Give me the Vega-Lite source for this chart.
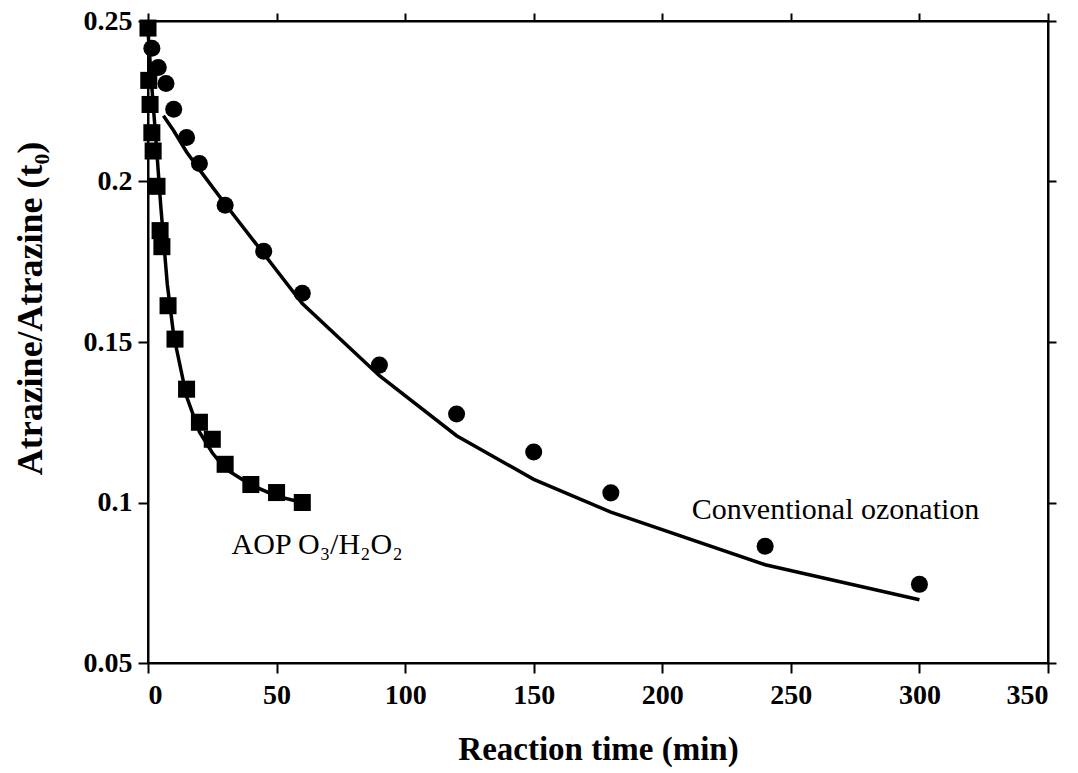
{
  "$schema": "https://vega.github.io/schema/vega-lite/v6.json",
  "autosize": "none",
  "width": 900,
  "height": 642,
  "padding": {"left": 148, "top": 21, "right": 30, "bottom": 110},
  "background": "white",
  "config": {
    "view": {"stroke": "black", "strokeWidth": 2},
    "axis": {
      "grid": false,
      "domainColor": "black",
      "domainWidth": 2,
      "tickColor": "black",
      "tickWidth": 2,
      "labelFont": "Liberation Serif",
      "labelFontWeight": "bold",
      "labelFontSize": 28,
      "labelColor": "black",
      "titleFont": "Liberation Serif",
      "titleFontWeight": "bold",
      "titleFontSize": 33,
      "titleColor": "black"
    }
  },
  "datasets": {
    "obs": [
      {"series": "conv", "t": 1.5, "v": 0.2415},
      {"series": "conv", "t": 4, "v": 0.2355},
      {"series": "conv", "t": 7, "v": 0.2305},
      {"series": "conv", "t": 10, "v": 0.2225},
      {"series": "conv", "t": 15, "v": 0.2137},
      {"series": "conv", "t": 20, "v": 0.2056},
      {"series": "conv", "t": 30, "v": 0.1926},
      {"series": "conv", "t": 45, "v": 0.1783},
      {"series": "conv", "t": 60, "v": 0.1652},
      {"series": "conv", "t": 90, "v": 0.1428},
      {"series": "conv", "t": 120, "v": 0.1276},
      {"series": "conv", "t": 150, "v": 0.1157},
      {"series": "conv", "t": 180, "v": 0.1030},
      {"series": "conv", "t": 240, "v": 0.0864},
      {"series": "conv", "t": 300, "v": 0.0745},
      {"series": "aop", "t": 0, "v": 0.2478},
      {"series": "aop", "t": 0.3, "v": 0.2315},
      {"series": "aop", "t": 0.8, "v": 0.2240},
      {"series": "aop", "t": 1.5, "v": 0.2152},
      {"series": "aop", "t": 2, "v": 0.2095},
      {"series": "aop", "t": 3.5, "v": 0.1985},
      {"series": "aop", "t": 4.7, "v": 0.1847},
      {"series": "aop", "t": 5.4, "v": 0.1797},
      {"series": "aop", "t": 7.8, "v": 0.1613},
      {"series": "aop", "t": 10.5, "v": 0.1509},
      {"series": "aop", "t": 15, "v": 0.1353},
      {"series": "aop", "t": 20, "v": 0.1250},
      {"series": "aop", "t": 25, "v": 0.1197},
      {"series": "aop", "t": 30, "v": 0.1119},
      {"series": "aop", "t": 40, "v": 0.1056},
      {"series": "aop", "t": 50, "v": 0.1031},
      {"series": "aop", "t": 60, "v": 0.1000}
    ],
    "fit": [
      {"series": "conv", "t": 6, "v": 0.2205},
      {"series": "conv", "t": 10, "v": 0.2158},
      {"series": "conv", "t": 15, "v": 0.2092},
      {"series": "conv", "t": 20, "v": 0.2037},
      {"series": "conv", "t": 30, "v": 0.1930},
      {"series": "conv", "t": 45, "v": 0.1775},
      {"series": "conv", "t": 60, "v": 0.1620},
      {"series": "conv", "t": 90, "v": 0.1395},
      {"series": "conv", "t": 120, "v": 0.1208},
      {"series": "conv", "t": 150, "v": 0.1072},
      {"series": "conv", "t": 180, "v": 0.0970},
      {"series": "conv", "t": 240, "v": 0.0806},
      {"series": "conv", "t": 300, "v": 0.0697},
      {"series": "aop", "t": 0, "v": 0.2470},
      {"series": "aop", "t": 1, "v": 0.2350},
      {"series": "aop", "t": 2, "v": 0.2240},
      {"series": "aop", "t": 3, "v": 0.2140},
      {"series": "aop", "t": 4, "v": 0.2030},
      {"series": "aop", "t": 5, "v": 0.1920},
      {"series": "aop", "t": 7.5, "v": 0.1680},
      {"series": "aop", "t": 10, "v": 0.1520},
      {"series": "aop", "t": 15, "v": 0.1330},
      {"series": "aop", "t": 20, "v": 0.1220},
      {"series": "aop", "t": 25, "v": 0.1155},
      {"series": "aop", "t": 30, "v": 0.1105},
      {"series": "aop", "t": 40, "v": 0.1055},
      {"series": "aop", "t": 50, "v": 0.1020},
      {"series": "aop", "t": 60, "v": 0.1000}
    ],
    "labels": [
      {"t": 211.5, "v": 0.0978, "label": "Conventional ozonation"},
      {"t": 32.5, "v": 0.0869, "label": "AOP O₃/H₂O₂"}
    ]
  },
  "resolve": {"axis": {"x": "independent", "y": "independent"}},
  "layer": [
    {
      "data": {"name": "fit"},
      "transform": [{"filter": "datum.series === 'conv'"}],
      "mark": {"type": "line", "color": "black", "strokeWidth": 3.5},
      "encoding": {
        "x": {"field": "t", "type": "quantitative", "scale": {"domain": [0, 350], "nice": false},
          "axis": {"orient": "bottom", "values": [0, 50, 100, 150, 200, 250, 300, 350], "tickSize": 10, "labelPadding": 8,
            "title": "Reaction time (min)", "titleX": 450, "titleY": 86, "titleBaseline": "middle", "titleAlign": "center"}},
        "y": {"field": "v", "type": "quantitative", "scale": {"domain": [0.05, 0.25], "nice": false, "zero": false},
          "axis": {"orient": "left", "values": [0.05, 0.1, 0.15, 0.2, 0.25], "labelExpr": "datum.value", "tickSize": 10, "labelPadding": 6,
            "title": "Atrazine/Atrazine (t₀)", "titleFontSize": 36, "titleX": -118, "titleY": 287, "titleAngle": -90, "titleBaseline": "middle", "titleAlign": "center"}}
      }
    },
    {
      "data": {"name": "fit"},
      "transform": [{"filter": "datum.series === 'aop'"}],
      "mark": {"type": "line", "color": "black", "strokeWidth": 3.5},
      "encoding": {
        "x": {"field": "t", "type": "quantitative", "axis": null},
        "y": {"field": "v", "type": "quantitative", "axis": null}
      }
    },
    {
      "data": {"name": "obs"},
      "transform": [{"filter": "datum.series === 'conv'"}],
      "mark": {"type": "point", "shape": "circle", "filled": true, "color": "black", "opacity": 1, "size": 290},
      "encoding": {
        "x": {"field": "t", "type": "quantitative", "axis": null},
        "y": {"field": "v", "type": "quantitative", "axis": null}
      }
    },
    {
      "data": {"name": "obs"},
      "transform": [{"filter": "datum.series === 'aop'"}],
      "mark": {"type": "point", "shape": "square", "filled": true, "color": "black", "opacity": 1, "size": 290},
      "encoding": {
        "x": {"field": "t", "type": "quantitative", "axis": null},
        "y": {"field": "v", "type": "quantitative", "axis": null}
      }
    },
    {
      "data": {"name": "labels"},
      "mark": {"type": "text", "align": "left", "baseline": "middle", "font": "Liberation Serif", "fontSize": 30, "color": "black"},
      "encoding": {
        "x": {"field": "t", "type": "quantitative", "axis": null},
        "y": {"field": "v", "type": "quantitative", "axis": null},
        "text": {"field": "label"}
      }
    },
    {
      "data": {"name": "labels"},
      "mark": {"type": "point", "opacity": 0},
      "encoding": {
        "x": {"field": "t", "type": "quantitative",
          "axis": {"orient": "top", "values": [0, 50, 100, 150, 200, 250, 300, 350], "labels": false, "tickSize": 8, "title": null}},
        "y": {"field": "v", "type": "quantitative",
          "axis": {"orient": "right", "values": [0.05, 0.1, 0.15, 0.2, 0.25], "labels": false, "tickSize": 8, "title": null}}
      }
    }
  ]
}
